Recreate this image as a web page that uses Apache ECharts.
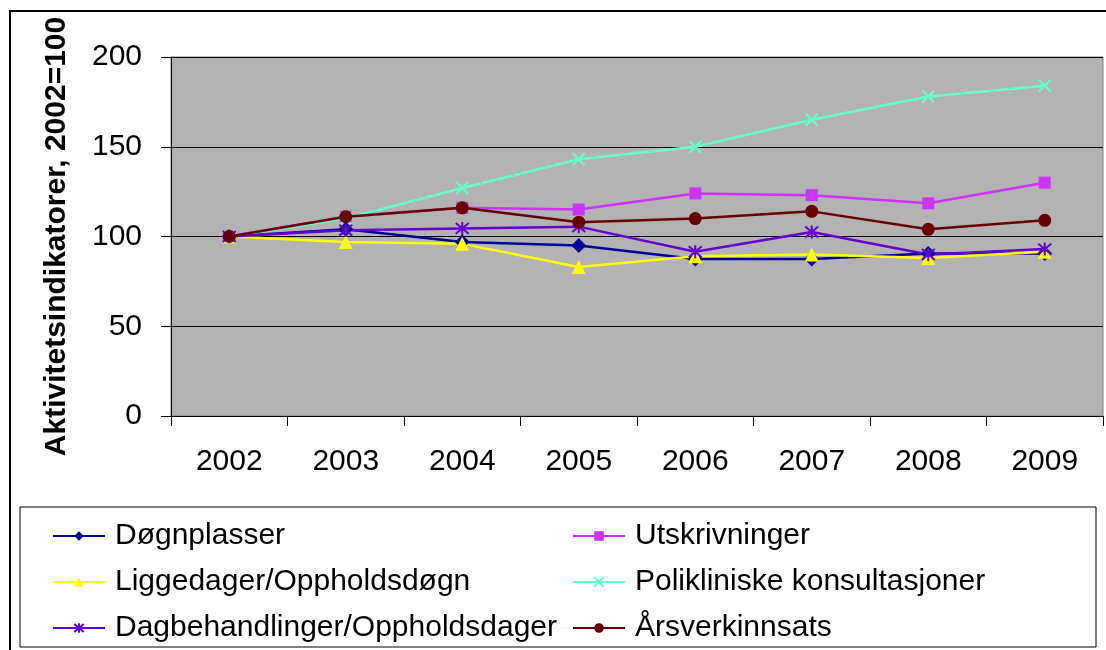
<!DOCTYPE html>
<html><head><meta charset="utf-8">
<script src="https://cdn.jsdelivr.net/npm/echarts@6/dist/echarts.min.js"></script>
<style>html,body{margin:0;padding:0;background:#fff}#c{width:1106px;height:650px}</style>
</head><body><div id="c"></div>
<script>
const years = ['2002','2003','2004','2005','2006','2007','2008','2009'];
const dognplasser = [100, 104, 97, 95, 87.5, 87.5, 90.5, 90.5];
const utskrivninger = [100, 111, 116, 115, 124, 123, 118.5, 130];
const liggedager = [100, 97, 96, 83, 89, 90, 88, 91.5];
const poliklinisk = [100, 110, 127, 143, 150, 165, 178, 184];
const dagbehandlinger = [100, 103.5, 104.5, 105.5, 91.5, 102.5, 90, 93];
const arsverk = [100, 111, 116, 108, 110, 114, 104, 109];
const yTicks = [0, 50, 100, 150, 200];

const FONT = '"Liberation Sans", Arial, sans-serif';
const crossPath = 'path://M0,0L10,10M10,0L0,10';
const starPath = 'path://M0,0L10,10M10,0L0,10M5,-1L5,11';

function mk(name, data, color, symbol, size, stroke) {
  return {
    name, type: 'line', data, symbol, symbolSize: size,
    lineStyle: { color, width: 2.5 },
    itemStyle: stroke ? { color: 'rgba(0,0,0,0)', borderColor: color, borderWidth: 2 } : { color },
    color: color,
    emphasis: { disabled: true },
    animation: false
  };
}

const legendText = { fontFamily: FONT, fontSize: 30, color: '#000', padding: [0, 0, 0, 5] };
const chart = echarts.init(document.getElementById('c'));
chart.setOption({
  animation: false,
  textStyle: { fontFamily: FONT },
  graphic: [
    { type: 'rect', shape: { x: 10, y: 11, width: 1200, height: 700 }, style: { fill: 'none', stroke: '#000', lineWidth: 2 }, z: -10 },
    { type: 'rect', shape: { x: 20, y: 507, width: 1076, height: 140 }, style: { fill: '#fff', stroke: '#000', lineWidth: 1 }, z: -5 }
  ],
  grid: { left: 171, top: 57, right: 3, bottom: 234, show: true, backgroundColor: '#b3b3b3', borderColor: '#808080', borderWidth: 1 },
  legend: [
    { data: ['Døgnplasser', 'Liggedager/Oppholdsdøgn', 'Dagbehandlinger/Oppholdsdager'], orient: 'vertical', left: 47, top: 516, itemGap: 16, itemWidth: 52, itemHeight: 12,
      textStyle: legendText, selectedMode: false },
    { data: ['Utskrivninger', 'Polikliniske konsultasjoner', 'Årsverkinnsats'], orient: 'vertical', left: 567, top: 516, itemGap: 16, itemWidth: 52, itemHeight: 12,
      textStyle: legendText, selectedMode: false }
  ],
  xAxis: {
    type: 'category', data: years, boundaryGap: true,
    axisLine: { lineStyle: { color: '#000', width: 1 } },
    axisTick: { show: true, length: 10, lineStyle: { color: '#000' } },
    axisLabel: { fontSize: 30, color: '#000', margin: 31, fontFamily: FONT },
    splitLine: { show: false }
  },
  yAxis: {
    type: 'value', min: 0, max: 200, interval: 50,
    name: 'Aktivitetsindikatorer, 2002=100', nameLocation: 'middle', nameRotate: 90, nameGap: 99,
    nameTextStyle: { fontSize: 30, fontWeight: 'bold', color: '#000', fontFamily: FONT },
    axisLine: { show: true, lineStyle: { color: '#000' } },
    axisTick: { show: true, length: 10, lineStyle: { color: '#000' } },
    axisLabel: { fontSize: 30, color: '#000', margin: 29, fontFamily: FONT,
      formatter: v => yTicks.includes(v) ? String(v) : '' },
    splitLine: { show: true, lineStyle: { color: '#000', width: 1 } }
  },
  series: [
    mk('Døgnplasser', dognplasser, '#000099', 'diamond', 15),
    mk('Utskrivninger', utskrivninger, '#cc33ff', 'rect', 12),
    mk('Liggedager/Oppholdsdøgn', liggedager, '#ffff00', 'triangle', 14),
    mk('Polikliniske konsultasjoner', poliklinisk, '#66ffcc', crossPath, 12, true),
    mk('Dagbehandlinger/Oppholdsdager', dagbehandlinger, '#6600cc', starPath, 13, true),
    mk('Årsverkinnsats', arsverk, '#660000', 'circle', 13)
  ]
});
</script></body></html>
